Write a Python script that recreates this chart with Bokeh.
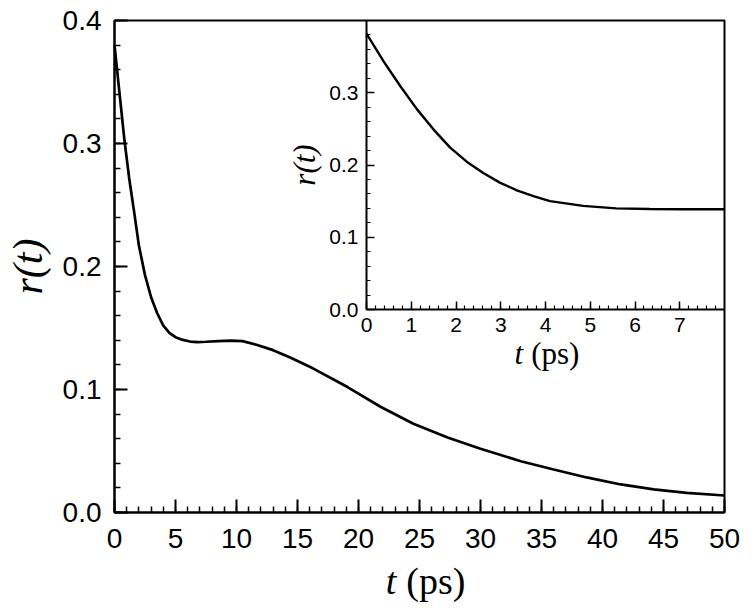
import math
from bokeh.plotting import figure
from bokeh.models import (Range1d, LinearAxis, FixedTicker, Label, PrintfTickFormatter,
                          BoxAnnotation)
from bokeh.embed import file_html
from bokeh.resources import INLINE

# ---- data ----
t_main = [0.0, 0.4, 0.8, 1.2, 1.6, 2.0, 2.5, 3.0, 3.5, 4.0, 4.5, 5.0, 5.6, 6.2, 6.8,
          7.5, 8.5, 9.5, 10.5, 11.7, 13.0, 14.4, 16.3, 19.1, 21.8, 24.5, 27.3, 30.0,
          33.3, 36.0, 38.7, 41.5, 44.2, 46.9, 50.0]
r_main = [0.380, 0.342, 0.304, 0.272, 0.245, 0.217, 0.193, 0.175, 0.162, 0.152, 0.146,
          0.1425, 0.1403, 0.1390, 0.1385, 0.1388, 0.1394, 0.1398, 0.1393, 0.1362, 0.1320,
          0.1260, 0.1170, 0.1020, 0.0860, 0.0722, 0.0610, 0.0518, 0.0417, 0.0350, 0.0285,
          0.0228, 0.0188, 0.0160, 0.0138]

t_inset = [0.0, 0.386, 0.757, 1.13, 1.5, 1.87, 2.24, 2.61, 2.98, 3.36, 3.73, 4.1,
           4.84, 5.58, 6.33, 7.0, 8.0]
r_inset = [0.3817, 0.343, 0.309, 0.277, 0.249, 0.224, 0.2046, 0.189, 0.1756, 0.165,
           0.157, 0.150, 0.1434, 0.140, 0.139, 0.1388, 0.1388]

main_xticks = [0, 5, 10, 15, 20, 25, 30, 35, 40, 45, 50]
main_yticks = [0.0, 0.1, 0.2, 0.3, 0.4]
inset_xticks = [0, 1, 2, 3, 4, 5, 6, 7]
inset_yticks = [0.0, 0.1, 0.2, 0.3]

main_xminor = [i for i in range(0, 51)]
main_yminor = [round(i * 0.02, 2) for i in range(0, 21)]
inset_xminor = [round(i * 0.2, 1) for i in range(0, 40)]
inset_yminor = [round(i * 0.02, 2) for i in range(0, 20)]

MAIN_X_END, MAIN_Y_END = 50.0, 0.4
IN_X_END, IN_Y_END = 8.0, 0.4

# ---- layout constants (pixels) ----
CANVAS_W, CANVAS_H = 744, 612
PLOT_LEFT, PLOT_TOP, PLOT_W, PLOT_H = 114, 20, 610, 492
INSET_LEFT, INSET_TOP, INSET_W, INSET_H = 366, 20, 358, 289

# whole canvas is the frame; main and inset axes are placed with fixed locations
mx = MAIN_X_END / PLOT_W
my = MAIN_Y_END / PLOT_H
main_xr = Range1d(-PLOT_LEFT * mx, (CANVAS_W - PLOT_LEFT) * mx)
main_yr = Range1d(-(CANVAS_H - PLOT_TOP - PLOT_H) * my, MAIN_Y_END + PLOT_TOP * my)

ix = IN_X_END / INSET_W
iy = IN_Y_END / INSET_H
inset_xr = Range1d(-INSET_LEFT * ix, (CANVAS_W - INSET_LEFT) * ix)
inset_yr = Range1d(-(CANVAS_H - INSET_TOP - INSET_H) * iy, IN_Y_END + INSET_TOP * iy)

p = figure(frame_width=CANVAS_W, frame_height=CANVAS_H,
           x_range=main_xr, y_range=main_yr,
           x_axis_location=None, y_axis_location=None,
           output_backend="svg", toolbar_location=None, min_border=0)
p.grid.visible = False
p.outline_line_color = None
p.background_fill_color = "white"
p.border_fill_color = "white"
p.extra_x_ranges = {"inset": inset_xr}
p.extra_y_ranges = {"inset": inset_yr}

# main frame box
p.add_layout(BoxAnnotation(left=0, right=MAIN_X_END, bottom=0, top=MAIN_Y_END,
                           fill_alpha=0, line_color="black", line_width=2,
                           line_alpha=1.0))

ax_mx = LinearAxis(fixed_location=0, bounds=(0, MAIN_X_END),
                   ticker=FixedTicker(ticks=main_xticks, minor_ticks=main_xminor))
ax_my = LinearAxis(fixed_location=0, bounds=(0, MAIN_Y_END),
                   ticker=FixedTicker(ticks=main_yticks, minor_ticks=main_yminor),
                   formatter=PrintfTickFormatter(format="%.1f"))
for ax in (ax_mx, ax_my):
    ax.major_tick_in = 13
    ax.major_tick_out = 0
    ax.minor_tick_in = 6
    ax.minor_tick_out = 0
    ax.axis_line_width = 2
    ax.major_tick_line_width = 2
    ax.minor_tick_line_width = 1.5
    ax.major_label_text_font = "Liberation Sans"
    ax.major_label_text_font_size = "28px"
    ax.major_label_text_color = "black"
ax_my.major_label_standoff = 13
ax_mx.major_label_standoff = 16
p.add_layout(ax_mx, "below")
p.add_layout(ax_my, "left")

p.line(t_main, r_main, line_color="black", line_width=2.7)

# main y label "r(t)"
p.add_layout(Label(x=-7.1, y=0.2, text="r(t)", angle=math.pi / 2,
                   text_align="center", text_baseline="middle",
                   text_font="Liberation Serif", text_font_style="italic",
                   text_font_size="42px", text_color="black"))

# main x label "t (ps)"
p.add_layout(Label(x=23.1, y=-0.056, text="t", text_align="right",
                   text_baseline="alphabetic", text_font="Liberation Serif",
                   text_font_style="italic", text_font_size="38px",
                   text_color="black"))
p.add_layout(Label(x=23.1, y=-0.056, x_offset=10, text="(ps)", text_align="left",
                   text_baseline="alphabetic", text_font="Liberation Serif",
                   text_font_size="38px", text_color="black"))

# ---- inset ----
p.line(t_inset, r_inset, x_range_name="inset", y_range_name="inset",
       line_color="black", line_width=2.4)

ax_ix = LinearAxis(x_range_name="inset", y_range_name="inset", fixed_location=0,
                   bounds=(0, IN_X_END),
                   ticker=FixedTicker(ticks=inset_xticks, minor_ticks=inset_xminor))
ax_iy = LinearAxis(x_range_name="inset", y_range_name="inset", fixed_location=0,
                   bounds=(0, IN_Y_END),
                   ticker=FixedTicker(ticks=inset_yticks, minor_ticks=inset_yminor),
                   formatter=PrintfTickFormatter(format="%.1f"))
for ax in (ax_ix, ax_iy):
    ax.major_tick_in = 8
    ax.major_tick_out = 0
    ax.minor_tick_in = 4
    ax.minor_tick_out = 0
    ax.axis_line_width = 2
    ax.major_tick_line_width = 1.5
    ax.minor_tick_line_width = 1.2
    ax.major_label_text_font = "Liberation Sans"
    ax.major_label_text_font_size = "21px"
    ax.major_label_text_color = "black"
    ax.major_label_standoff = 8

ax_iy.axis_label = "r(t)"
ax_iy.axis_label_text_font = "Liberation Serif"
ax_iy.axis_label_text_font_style = "italic"
ax_iy.axis_label_text_font_size = "31px"
ax_iy.axis_label_text_color = "black"
ax_iy.axis_label_standoff = 4

p.add_layout(ax_ix, "below")
p.add_layout(ax_iy, "left")

p.add_layout(Label(x=3.5, y=-0.061, x_range_name="inset", y_range_name="inset",
                   text="t", text_align="right", text_baseline="alphabetic",
                   text_font="Liberation Serif", text_font_style="italic",
                   text_font_size="31px", text_color="black"))
p.add_layout(Label(x=3.5, y=-0.061, x_range_name="inset", y_range_name="inset",
                   x_offset=8, text="(ps)", text_align="left",
                   text_baseline="alphabetic", text_font="Liberation Serif",
                   text_font_size="31px", text_color="black"))

open("out.html", "w").write(file_html(p, INLINE))
